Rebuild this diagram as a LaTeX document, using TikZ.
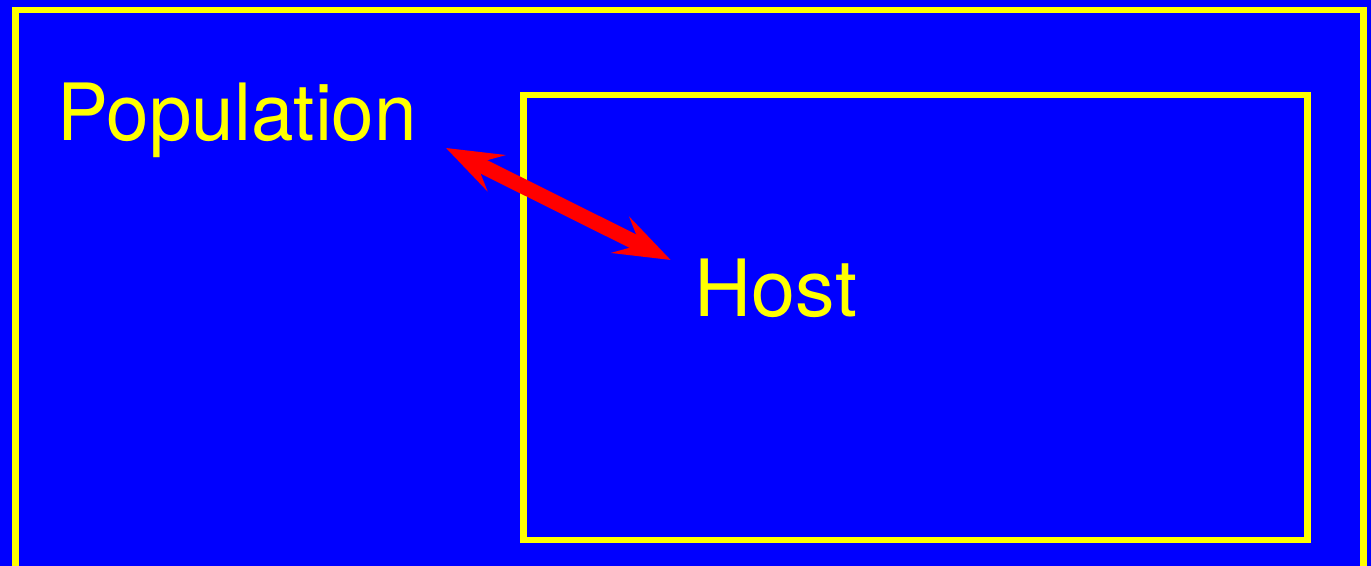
\documentclass[tikz,border=0pt]{standalone}
\usepackage{fontspec}
\setmainfont{TeX Gyre Heros}
\usetikzlibrary{arrows.meta}
\definecolor{bgblue}{RGB}{0,0,255}
\definecolor{frameyellow}{RGB}{255,255,0}
\definecolor{linkred}{RGB}{255,0,0}
\tikzset{
  frame/.style={draw=frameyellow, line width=3.2pt},
  label/.style={text=frameyellow, inner sep=0pt, anchor=base west,
    font=\fontsize{39.5pt}{44pt}\selectfont},
  link/.style={draw=linkred, line width=7.5pt,
    >={Stealth[length=28pt, width=20pt, inset=11pt]}, <->}
}
\begin{document}
\begin{tikzpicture}[x=0.5pt, y=-0.5pt]
  \useasboundingbox (0,0) rectangle (1371,566);
  \fill[bgblue] (0,0) rectangle (1371,566);
  \begin{scope}
    \clip (0,0) rectangle (1371,566);
    % outer and inner frames
    \draw[frame] (15.5,10) rectangle (1363.5,569);
    \draw[frame] (523.5,95) rectangle (1307.5,540);
  \end{scope}
  % labels
  \node[label] (pop) at (57.5,140.7) {\scalebox{0.967}[1]{Population}};
  \node[label] (host) at (694.5,316.7) {Host};
  % link ends
  \coordinate (popEnd) at (446,148);
  \coordinate (hostEnd) at (670.7,260);
  \draw[link] (popEnd) -- (hostEnd);
\end{tikzpicture}
\end{document}
